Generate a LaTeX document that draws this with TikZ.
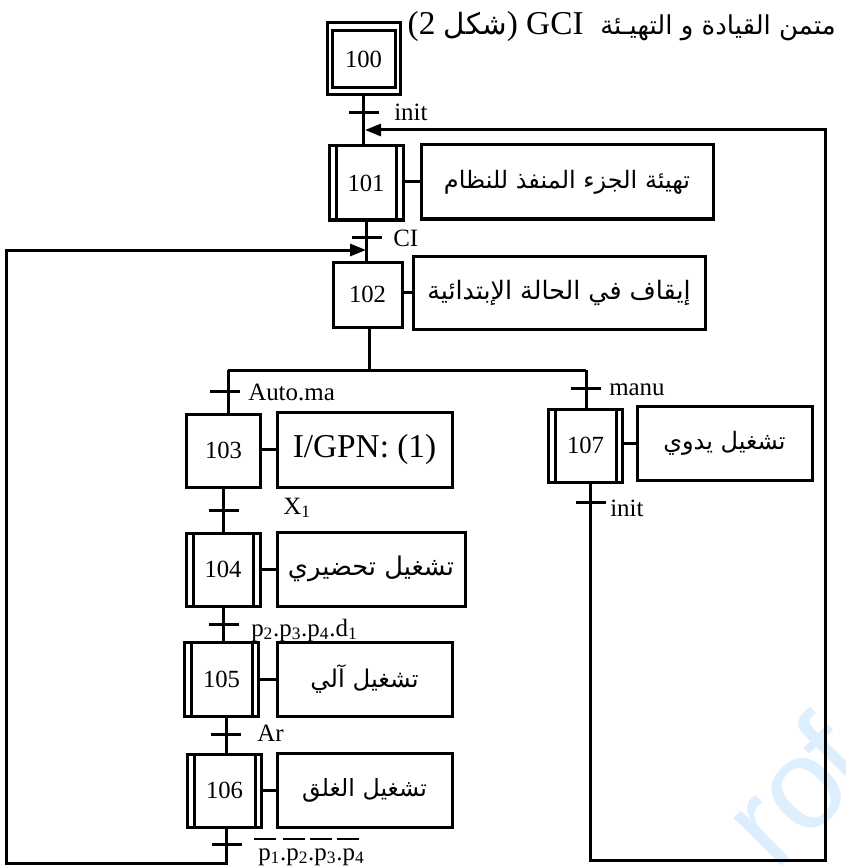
\documentclass[tikz,border=0pt]{standalone}
\usepackage{fontspec}
\setmainfont{Liberation Serif}
\newfontfamily\arabicfont[Script=Arabic]{DejaVu Sans}
\newfontfamily\markfont{Liberation Sans}
\TeXXeTstate=1
\usetikzlibrary{arrows.meta}
\definecolor{markblue}{HTML}{DDEEFF}
\newcommand{\arz}[1]{\arabicfont\fontsize{#1}{24}\selectfont}
\newcommand{\lat}[1]{{\rmfamily\fontsize{25}{28}\selectfont #1}}
\tikzset{
  flowline/.style={draw=black,line width=2.25pt,line join=miter},
  arrowline/.style={flowline,-{Triangle[length=12pt,width=9pt]}},
  stepbox/.style={draw=black,line width=2.25pt,rectangle,inner sep=0pt,outer sep=0pt,
    minimum width=55.5pt,minimum height=55.5pt,font=\fontsize{18.5}{20}\selectfont},
  macrobox/.style={stepbox,path picture={
    \draw[line width=2.25pt] ([xshift=5.4pt]path picture bounding box.north west) -- ([xshift=5.4pt]path picture bounding box.south west);
    \draw[line width=2.25pt] ([xshift=-4.6pt]path picture bounding box.north east) -- ([xshift=-4.6pt]path picture bounding box.south east);}},
  actionbox/.style={draw=black,line width=2.25pt,rectangle,inner sep=0pt,outer sep=0pt,
    minimum width=131.25pt,minimum height=55.5pt},
  transbar/.style={fill=black,rectangle,inner sep=0pt,outer sep=0pt,minimum width=22.5pt,minimum height=2.25pt},
  condlabel/.style={anchor=west,inner sep=0pt,font=\fontsize{18.7}{20}\selectfont},
  overbar/.style={draw=black,line width=1pt},
}
\begin{document}
\begin{tikzpicture}[x=0.75pt,y=-0.75pt]
\useasboundingbox (0,0) rectangle (845,866);
% watermark
\begin{scope}
\clip (0,0) rectangle (845,866);
\node[anchor=base west,rotate=45,inner sep=0pt,text=markblue,font=\markfont\fontsize{96}{110}\selectfont] (wm) at (775,873) {ro\kern-6pt f};
\end{scope}
% title
\node[inner sep=0pt,anchor=base east] (title) at (836,35) {\lat{(2\ }{\arz{22}\beginR شكل\endR}\lat{)\ GCI\ \ }{\arz{19.5}\beginR متمن القيادة و التهيـئة\endR}};
% steps
\node[stepbox,minimum width=54.75pt,minimum height=54pt] (s100) at (363.5,59) {};
\node[stepbox,minimum width=47.25pt,minimum height=43pt] (s100in) at (363.5,59) {100};
\node[macrobox] (s101) at (366,183) {101};
\node[stepbox,minimum width=51.75pt,minimum height=48.75pt] (s102) at (367.5,294.5) {102};
\node[stepbox,minimum height=54.75pt] (s103) at (223.5,450.5) {103};
\node[macrobox,minimum height=54.75pt] (s104) at (223,569.5) {104};
\node[macrobox] (s105) at (221.5,679) {105};
\node[macrobox,minimum height=54.75pt] (s106) at (224.5,790.5) {106};
\node[macrobox,minimum height=54.75pt] (s107) at (585.5,445.5) {107};
% actions
\node[actionbox,minimum width=219pt] (a101) at (567,182) {\arz{18}\beginR تهيئة الجزء المنفذ للنظام\endR};
\node[actionbox,minimum width=219pt,minimum height=54.75pt] (a102) at (559,292.5) {\arz{19}\beginR إيقاف في الحالة الإبتدائية\endR};
\node[actionbox,minimum height=56.25pt,font=\fontsize{25}{28}\selectfont] (a103) at (364.5,449.5) {\raisebox{-3pt}{I/GPN: (1)}};
\node[actionbox,minimum width=141pt] (a104) at (371,569) {\arz{19.3}\beginR تشغيل تحضيري\endR};
\node[actionbox] (a105) at (364.5,679) {\arz{18.3}\beginR تشغيل آلي\endR};
\node[actionbox] (a106) at (364.5,790) {\arz{17.8}\beginR تشغيل الغلق\endR};
\node[actionbox] (a107) at (724.5,443) {\arz{18}\beginR تشغيل يدوي\endR};
% action links
\foreach \n in {101,102,103,104,105,106,107}
  \draw[flowline] (a\n.west) -- (s\n.east |- a\n.west);
% transition bars
\node[transbar] (t100) at (364,113) {};
\node[transbar] (t101) at (367,237) {};
\node[transbar] (t102) at (225,391) {};
\node[transbar] (t103) at (224,510) {};
\node[transbar] (t104) at (224,624) {};
\node[transbar] (t105) at (226,734) {};
\node[transbar] (t106) at (227,844) {};
\node[transbar] (t107) at (585.5,388) {};
\node[transbar] (t108) at (590.5,502) {};
% routing points
\coordinate (m1) at (365,130);
\coordinate (m2) at (366,250);
\coordinate (j0) at (369,370);
\coordinate (jl) at (228,370);
\coordinate (jr) at (586,370);
\coordinate (r1) at (590,860);
\coordinate (r2) at (825,860);
\coordinate (r3) at (825,130);
\coordinate (l1) at (226,863);
\coordinate (l2) at (6,863);
\coordinate (l3) at (6,250);
% connectors
\draw[flowline] (s100.south) -- (s100.south |- s101.north);
\draw[flowline] (s101.south) -- (s101.south |- s102.north);
\draw[flowline] (s102.south -| j0) -- (j0);
\draw[flowline] (jl) -- (jr);
\draw[flowline] (jl) -- (jl |- s103.north);
\draw[flowline] (jr) -- (jr |- s107.north);
\draw[flowline] (s103.south) -- (s103.south |- s104.north);
\draw[flowline] (s104.south) -- (s104.south |- s105.north);
\draw[flowline] (s105.south -| t105) -- (t105 |- s106.north);
\draw[flowline,line cap=rect] (s106.south -| l1) -- (l1) -- (l2) -- (l3) -- (m2 -| l3);
\draw[arrowline] (l3) -- (m2);
\draw[flowline,line cap=rect] (s107.south -| r1) -- (r1) -- (r2) -- (r3);
\draw[arrowline] (r3) -- (m1);
% condition labels
\node[condlabel] (c100) at (394,112) {init};
\node[condlabel] (c101) at (393,238) {CI};
\node[condlabel] (c102) at (248,392) {Auto.ma};
\node[condlabel] (c103) at (283,508) {X\textsubscript{1}};
\node[condlabel] (c104) at (251,630) {p\textsubscript{2}.p\textsubscript{3}.p\textsubscript{4}.d\textsubscript{1}};
\node[condlabel] (c105) at (257,733) {Ar};
\node[condlabel] (c106) at (258,857) {p\textsubscript{1}.p\textsubscript{2}.p\textsubscript{3}.p\textsubscript{4}};
\node[condlabel] (c107) at (609,390) {manu};
\node[condlabel] (c108) at (610,508) {init};
\draw[overbar] (254,839) -- (276,839);
\draw[overbar] (283,839) -- (305,839);
\draw[overbar] (310,839) -- (332,839);
\draw[overbar] (337,839) -- (359,839);
\end{tikzpicture}
\end{document}
